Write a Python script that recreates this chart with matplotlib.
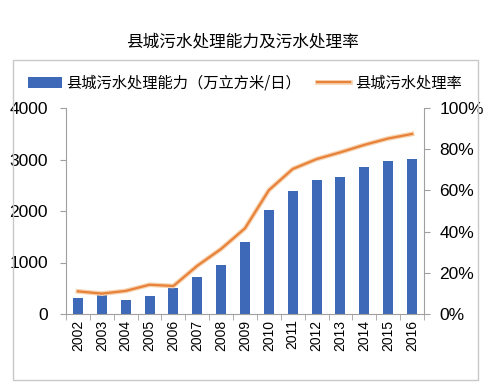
import matplotlib.pyplot as plt
import matplotlib.patheffects as pe
from matplotlib.patches import Rectangle
from matplotlib.ticker import PercentFormatter

plt.rcParams['font.family'] = ['Liberation Sans', 'Noto Sans CJK SC', 'DejaVu Sans']

# -----------------------------
# Data
# -----------------------------

years = ["2002", "2003", "2004", "2005", "2006", "2007", "2008", "2009",
         "2010", "2011", "2012", "2013", "2014", "2015", "2016"]

capacity = [303, 367, 271, 355, 497, 722, 961, 1399,
            2025, 2398, 2605, 2669, 2863, 2979, 3017]

rate = [11.0, 9.9, 11.2, 14.2, 13.6, 23.4, 31.6, 41.6,
        60.1, 70.4, 75.2, 78.5, 82.1, 85.2, 87.4]

title = "县城污水处理能力及污水处理率"
bar_label = "县城污水处理能力（万立方米/日）"
line_label = "县城污水处理率"

# -----------------------------
# Figure
# -----------------------------

fig = plt.figure(figsize=(4.85, 3.9), dpi=100)
fig.patch.set_facecolor("white")

fig.patches.append(Rectangle((13 / 485, 10 / 390), 465 / 485, 320 / 390,
                             transform=fig.transFigure, fill=False,
                             edgecolor="#c8c8c8", linewidth=1.0))

fig.text(0.5, 1 - 42 / 390, title, ha="center", va="center",
         fontsize=12, family=["Noto Sans CJK SC"])

ax = fig.add_axes([66 / 485, 76 / 390, 358 / 485, 206 / 390])
ax2 = ax.twinx()

x = range(len(years))
bars = ax.bar(x, capacity, width=0.42, color="#3e69b9", zorder=2)
line, = ax2.plot(x, rate, color="#e8813a", linewidth=1.6, zorder=3,
                 path_effects=[pe.Stroke(linewidth=3.4, foreground="#f6d2ae"),
                               pe.Normal()])

ax.set_xlim(-0.5, len(years) - 0.5)
ax.set_ylim(0, 4000)
ax.set_yticks([0, 1000, 2000, 3000, 4000])
ax2.set_ylim(0, 100)
ax2.set_yticks([0, 20, 40, 60, 80, 100])
ax2.yaxis.set_major_formatter(PercentFormatter(decimals=0))

ax.set_xticks(list(x))
ax.set_xticklabels(years, rotation=90, fontsize=10)
ax.set_xticks([i + 0.5 for i in range(-1, len(years))], minor=True)
ax.tick_params(axis="x", which="major", length=0, pad=4)
ax.tick_params(axis="x", which="minor", length=4, color="#a0a0a0")

ax.tick_params(axis="y", labelsize=12.5, length=4, color="#a0a0a0", pad=9)
ax2.tick_params(axis="y", labelsize=12.5, length=4, color="#a0a0a0", pad=7)

for a in (ax, ax2):
    a.spines["top"].set_visible(False)
    for s in ("left", "right", "bottom"):
        a.spines[s].set_color("#a0a0a0")
ax.spines["right"].set_visible(False)
ax2.spines["left"].set_visible(False)
ax2.spines["bottom"].set_visible(False)

leg = fig.legend([bars, line], [bar_label, line_label], loc="center",
                 bbox_to_anchor=(0.505, 1 - 83 / 390), ncol=2, frameon=False,
                 prop={"family": ["Noto Sans CJK SC"], "size": 11},
                 handlelength=2.2, handletextpad=0.3, columnspacing=1.0)

plt.savefig("out.png", dpi=100)
